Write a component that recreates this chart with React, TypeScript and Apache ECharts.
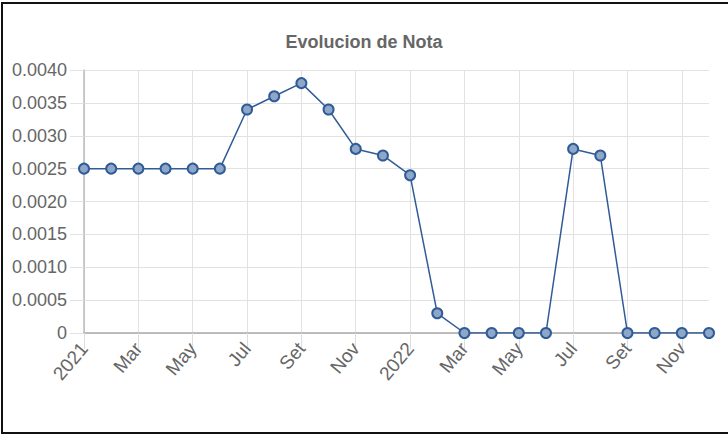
import React, { useEffect, useRef } from "react";
import * as echarts from "echarts";

const months: string[] = [
  "2021", "Feb", "Mar", "Abr", "May", "Jun", "Jul", "Ago", "Set", "Oct", "Nov", "Dic",
  "2022", "Feb", "Mar", "Abr", "May", "Jun", "Jul", "Ago", "Set", "Oct", "Nov", "Dic",
];
const notaValues: number[] = [
  0.0025, 0.0025, 0.0025, 0.0025, 0.0025, 0.0025, 0.0034, 0.0036, 0.0038, 0.0034, 0.0028, 0.0027,
  0.0024, 0.0003, 0, 0, 0, 0, 0.0028, 0.0027, 0, 0, 0, 0,
];
const yTicks: number[] = [0, 0.0005, 0.001, 0.0015, 0.002, 0.0025, 0.003, 0.0035, 0.004];

export default function App() {
  const ref = useRef<HTMLDivElement>(null);
  useEffect(() => {
    if (!ref.current) return;
    const chart = echarts.init(ref.current, undefined, { renderer: "svg" });
    const font = "'Liberation Sans', Arial, sans-serif";
    chart.setOption({
      animation: false,
      backgroundColor: "#fff",
      textStyle: { fontFamily: font },
      title: {
        text: "Evolucion de Nota",
        left: "center",
        top: 28,
        textStyle: { fontFamily: font, fontSize: 18, fontWeight: "bold", color: "#666" },
      },
      grid: { left: 84, right: 19, top: 70, bottom: 101, containLabel: false },
      xAxis: {
        type: "category",
        data: months,
        boundaryGap: false,
        axisLine: { show: true, lineStyle: { color: "#aaa", width: 1.5 } },
        axisTick: { show: true, interval: 1, length: 16, lineStyle: { color: "#ddd" } },
        axisLabel: {
          interval: 1,
          rotate: 50,
          fontSize: 19,
          color: "#666",
          margin: 12,
          fontFamily: font,
        },
        splitLine: { show: true, interval: 1, lineStyle: { color: "#e2e2e2" } },
      },
      yAxis: {
        type: "value",
        min: yTicks[0],
        max: yTicks[yTicks.length - 1],
        interval: 0.0005,
        axisLine: { show: true, lineStyle: { color: "#bbb", width: 1.5 } },
        axisTick: { show: true, length: 14, lineStyle: { color: "#e2e2e2" } },
        axisLabel: {
          fontSize: 18,
          color: "#666",
          margin: 17,
          fontFamily: font,
          formatter: (v: number) => (v === 0 ? "0" : v.toFixed(4)),
        },
        splitLine: { show: true, lineStyle: { color: "#e2e2e2" } },
      },
      series: [
        {
          type: "line",
          data: notaValues,
          symbol: "circle",
          symbolSize: 10,
          lineStyle: { color: "#2f5b97", width: 1.5 },
          itemStyle: { color: "#8ea7c9", borderColor: "#2f5b97", borderWidth: 2 },
        },
      ],
    });
    return () => chart.dispose();
  }, []);
  return (
    <div style={{ position: "fixed", left: 0, top: 0, width: 728, height: 434, overflow: "hidden", background: "#fff" }}>
      <div ref={ref} style={{ position: "absolute", left: 0, top: 0, width: 728, height: 434 }} />
      <div
        style={{
          position: "absolute",
          left: 1,
          top: 2,
          width: 760,
          height: 432,
          border: "2px solid #111",
          boxSizing: "border-box",
          pointerEvents: "none",
        }}
      />
    </div>
  );
}
